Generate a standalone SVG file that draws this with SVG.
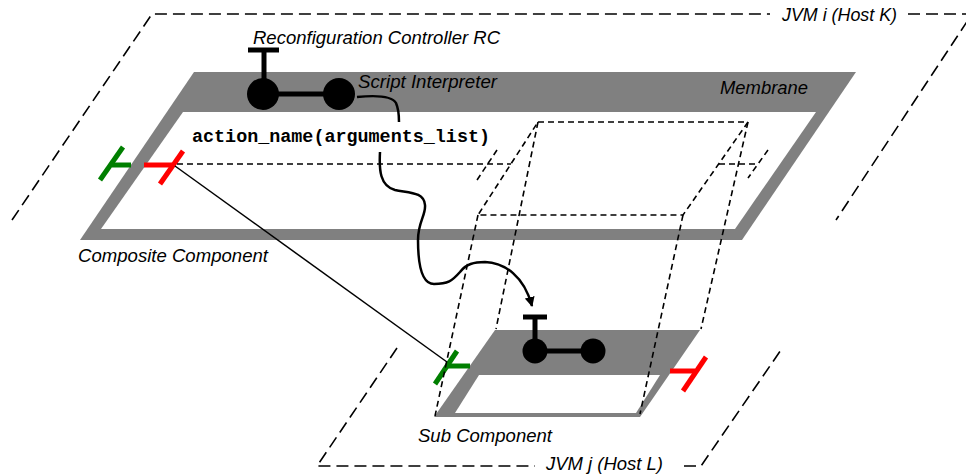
<svg xmlns="http://www.w3.org/2000/svg" width="966" height="474" viewBox="0 0 966 474">
<style>
.jvm{fill:none;stroke:#000;stroke-width:1.6;stroke-dasharray:12,6}
.dash{fill:none;stroke:#000;stroke-width:1.6;stroke-dasharray:6,4}
.mem{fill:#808080}
.in{fill:#fff}
.lbl{font-family:"Liberation Sans",Arial,sans-serif;font-style:italic;font-size:18px;fill:#000}
.code{font-family:"Liberation Mono","Courier New",monospace;font-weight:bold;font-size:18px;fill:#000}
.bar{stroke:#000;stroke-width:5;fill:none}
.green{stroke:#007f00;stroke-width:5;fill:none}
.red{stroke:#ff0000;stroke-width:5;fill:none}
</style>
<defs>
<marker id="arr" viewBox="0 0 10 10" refX="9" refY="5" markerWidth="4" markerHeight="4" orient="auto" markerUnits="strokeWidth">
<path d="M0,0 L10,5 L0,10 Z" fill="#000"/>
</marker>
</defs>
<rect width="966" height="474" fill="#fff"/>

<g id="jvm-i">
<path class="jvm" d="M12,220 L152,14 L770,14 M908,14 L972,14 L836,220"/>
<text class="lbl" x="782" y="21" textLength="115" lengthAdjust="spacingAndGlyphs">JVM i (Host K)</text>
</g>

<g id="jvm-j">
<path class="jvm" d="M397,348 L317,466 L535,466 M684,466 L701,466 L783,347"/>
<text class="lbl" x="546" y="470" textLength="117" lengthAdjust="spacingAndGlyphs">JVM j (Host L)</text>
</g>

<g id="composite">
<path class="mem" d="M194,72 L856,72 L742,240 L80,240 Z"/>
<path class="in" d="M183,112 L816,112 L735,229 L101,229 Z"/>
<text class="lbl" x="720" y="94" textLength="88" lengthAdjust="spacingAndGlyphs">Membrane</text>
<text class="lbl" x="78" y="262" textLength="190" lengthAdjust="spacingAndGlyphs">Composite Component</text>
<text class="code" x="192" y="142" textLength="298" lengthAdjust="spacingAndGlyphs">action_name(arguments_list)</text>
</g>

<g id="rc">
<line class="bar" x1="248" y1="50" x2="279" y2="50" stroke-width="6"/>
<line class="bar" x1="264" y1="50" x2="264" y2="94"/>
<line class="bar" x1="263" y1="94" x2="339" y2="94"/>
<circle cx="263" cy="94" r="16" fill="#000"/>
<circle cx="339" cy="94" r="16" fill="#000"/>
<text class="lbl" x="253" y="44" textLength="247" lengthAdjust="spacingAndGlyphs">Reconfiguration Controller RC</text>
<text class="lbl" x="358" y="88" textLength="139" lengthAdjust="spacingAndGlyphs">Script Interpreter</text>
</g>

<g id="composite-interfaces">
<line class="green" x1="112" y1="165" x2="131" y2="165"/>
<line class="green" x1="100" y1="180" x2="123" y2="147"/>
<line class="red" x1="144" y1="165" x2="172" y2="165"/>
<line class="red" x1="160" y1="184" x2="183" y2="151"/>
</g>

<g id="sub-component">
<path class="mem" d="M495,330 L700,330 L640,417 L434,417 Z"/>
<path class="in" d="M479,375 L660,375 L636,413 L455,413 Z"/>
<line class="bar" x1="523" y1="317" x2="547" y2="317"/>
<line class="bar" x1="535" y1="317" x2="535" y2="351" stroke-width="4"/>
<line class="bar" x1="535" y1="351" x2="593" y2="351" stroke-width="4"/>
<circle cx="535" cy="351" r="12.5" fill="#000"/>
<circle cx="593" cy="351" r="12.5" fill="#000"/>
<line class="green" x1="447" y1="366" x2="470" y2="366"/>
<line class="green" x1="435" y1="384" x2="457" y2="351"/>
<line class="red" x1="670" y1="371" x2="695" y2="371"/>
<line class="red" x1="683" y1="391" x2="706" y2="357"/>
<text class="lbl" x="418" y="442" textLength="134" lengthAdjust="spacingAndGlyphs">Sub Component</text>
</g>

<g id="connectors">
<path class="dash" d="M177,164 L511,164 M719,164 L757,164 M497,150 L477,180 M768,150 L748,178"/>
<path class="dash" d="M538,122 L748,122 L683,215 L478,215 Z"/>
<path class="dash" d="M538,122 L496,329 M748,122 L701,329 M683,215 L640,414 M478,215 L435,416"/>
<line x1="175" y1="166" x2="447" y2="362" stroke="#000" stroke-width="1.5"/>
<path d="M357,97 C377,95 392,96 396,103 C399,110 399,116 399,122" fill="none" stroke="#000" stroke-width="2.5"/>
<path d="M380,152 C379,170 380,186 395,190 C410,193 424,192 425,205 C426,215 418,222 418,240 C418,260 420,284 434,284 C448,284 452,281 460,272 C466,264 474,262 485,262 C505,263 524,276 532,306" fill="none" stroke="#000" stroke-width="2.5" marker-end="url(#arr)"/>
</g>
</svg>
